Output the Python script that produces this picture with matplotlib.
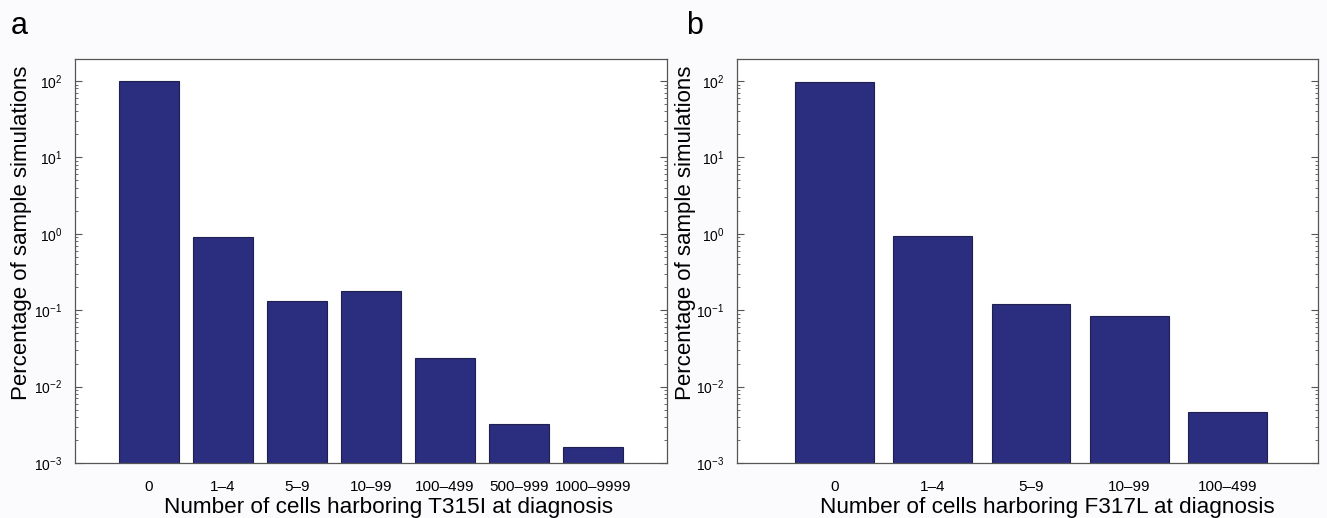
import matplotlib
matplotlib.use("Agg")
import matplotlib.pyplot as plt
import numpy as np
from matplotlib.ticker import LogLocator, FuncFormatter, NullFormatter

plt.rcParams['font.family'] = ['Liberation Sans', 'DejaVu Sans']
plt.rcParams['mathtext.fontset'] = 'custom'
plt.rcParams['mathtext.rm'] = 'Liberation Sans'
plt.rcParams['mathtext.it'] = 'Liberation Sans'

# Panel a data
cats_a = ["0", "1\u20134", "5\u20139", "10\u201399", "100\u2013499", "500\u2013999", "1000\u20139999"]
vals_a = [100, 0.905, 0.134, 0.176, 0.024, 0.0032, 0.00162]
xlabel_a = "Number of cells harboring T315I at diagnosis"

# Panel b data
cats_b = ["0", "1\u20134", "5\u20139", "10\u201399", "100\u2013499"]
vals_b = [97, 0.95, 0.12, 0.085, 0.0047]
xlabel_b = "Number of cells harboring F317L at diagnosis"

ylabel = "Percentage of sample simulations"
bar_color = "#2b2d7e"
spine_color = "#555555"

fig = plt.figure(figsize=(13.27, 5.18), dpi=100, facecolor="#fbfbfd")

def make_panel(rect, cats, vals, xlabel, xlim, letter, letter_x, ylab_x, xlab_x):
    ax = fig.add_axes(rect)
    x = np.arange(len(cats))
    ax.bar(x, vals, width=0.8, color=bar_color, edgecolor="#1e2050", linewidth=0.8)
    ax.set_yscale("log")
    ax.set_ylim(1e-3, 10 ** 2.288)
    ax.set_xlim(*xlim)
    ax.set_xticks(x)
    ax.set_xticklabels(cats, fontsize=11)
    ax.tick_params(axis="x", length=0, pad=12)
    ax.yaxis.set_major_locator(LogLocator(base=10, numticks=10))
    ax.yaxis.set_minor_locator(LogLocator(base=10, subs=np.arange(2, 10), numticks=20))
    ax.yaxis.set_minor_formatter(NullFormatter())
    ax.yaxis.set_major_formatter(FuncFormatter(lambda v, p: r"$10^{%d}$" % int(round(np.log10(v)))))
    ax.tick_params(axis="y", which="both", direction="in", right=True, labelsize=10, color=spine_color, pad=9)
    ax.tick_params(axis="y", which="major", length=5)
    ax.tick_params(axis="y", which="minor", length=2.5)
    for s in ax.spines.values():
        s.set_color(spine_color)
        s.set_linewidth(0.9)
    ax.set_xlabel(xlabel, fontsize=16.2)
    ax.xaxis.set_label_coords(xlab_x, -0.085)
    ax.set_ylabel(ylabel, fontsize=16)
    ax.yaxis.set_label_coords(ylab_x, 0.57)
    fig.text(letter_x, 0.934, letter, fontsize=22, ha="left", va="baseline")
    return ax

make_panel([0.0565, 0.1062, 0.4461, 0.7798], cats_a, vals_a, xlabel_a, (-1.0, 7.0), "a", 0.008, -0.072, 0.529)
make_panel([0.5554, 0.1062, 0.4378, 0.7798], cats_b, vals_b, xlabel_b, (-0.99, 4.92), "b", 0.517, -0.070, 0.534)

fig.savefig("out.png", dpi=100, facecolor=fig.get_facecolor())
